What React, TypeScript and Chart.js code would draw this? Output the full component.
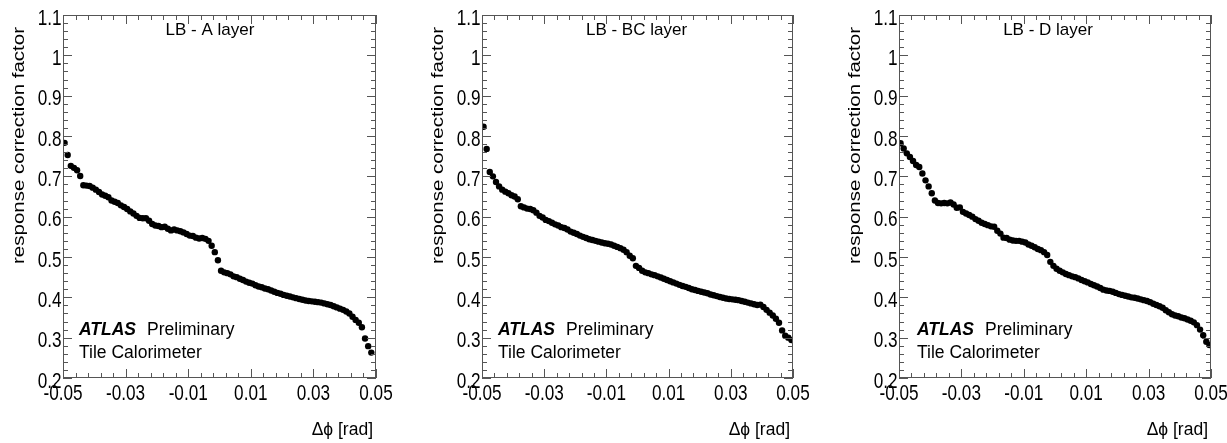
import React, { useEffect, useRef } from "react";
import { Chart, registerables } from "chart.js";

Chart.register(...registerables);

// ---- data ----
const DELTA_PHI = [
  -0.0495, -0.0485, -0.0475, -0.0465, -0.0455, -0.0445, -0.0435, -0.0425, -0.0415, -0.0405,
  -0.0395, -0.0385, -0.0375, -0.0365, -0.0355, -0.0345, -0.0335, -0.0325, -0.0315, -0.0305,
  -0.0295, -0.0285, -0.0275, -0.0265, -0.0255, -0.0245, -0.0235, -0.0225, -0.0215, -0.0205,
  -0.0195, -0.0185, -0.0175, -0.0165, -0.0155, -0.0145, -0.0135, -0.0125, -0.0115, -0.0105,
  -0.0095, -0.0085, -0.0075, -0.0065, -0.0055, -0.0045, -0.0035, -0.0025, -0.0015, -0.0005,
  0.0005, 0.0015, 0.0025, 0.0035, 0.0045, 0.0055, 0.0065, 0.0075, 0.0085, 0.0095,
  0.0105, 0.0115, 0.0125, 0.0135, 0.0145, 0.0155, 0.0165, 0.0175, 0.0185, 0.0195,
  0.0205, 0.0215, 0.0225, 0.0235, 0.0245, 0.0255, 0.0265, 0.0275, 0.0285, 0.0295,
  0.0305, 0.0315, 0.0325, 0.0335, 0.0345, 0.0355, 0.0365, 0.0375, 0.0385, 0.0395,
  0.0405, 0.0415, 0.0425, 0.0435, 0.0445, 0.0455, 0.0465, 0.0475, 0.0485, 0.0495,
];

const A_LAYER = [
  0.783, 0.753, 0.726, 0.721, 0.715, 0.701, 0.678, 0.677, 0.676, 0.672,
  0.667, 0.661, 0.655, 0.652, 0.648, 0.640, 0.637, 0.634, 0.628, 0.624,
  0.619, 0.613, 0.608, 0.602, 0.597, 0.596, 0.596, 0.590, 0.582, 0.578,
  0.577, 0.574, 0.575, 0.570, 0.566, 0.568, 0.566, 0.564, 0.561, 0.557,
  0.553, 0.552, 0.548, 0.546, 0.547, 0.545, 0.540, 0.528, 0.512, 0.492,
  0.466, 0.462, 0.460, 0.457, 0.452, 0.450, 0.446, 0.443, 0.439, 0.436,
  0.434, 0.430, 0.427, 0.425, 0.422, 0.420, 0.417, 0.414, 0.411, 0.409,
  0.406, 0.404, 0.402, 0.400, 0.398, 0.396, 0.394, 0.392, 0.391, 0.390,
  0.389, 0.388, 0.387, 0.385, 0.383, 0.381, 0.378, 0.375, 0.372, 0.369,
  0.365, 0.360, 0.352, 0.344, 0.337, 0.326, 0.298, 0.279, 0.263, null,
];

const BC_LAYER = [
  0.823, 0.768, 0.711, 0.700, 0.686, 0.675, 0.667, 0.662, 0.658, 0.653,
  0.650, 0.643, 0.626, 0.623, 0.620, 0.619, 0.616, 0.610, 0.602, 0.598,
  0.592, 0.589, 0.585, 0.581, 0.578, 0.574, 0.572, 0.568, 0.563, 0.560,
  0.557, 0.553, 0.550, 0.547, 0.544, 0.542, 0.540, 0.538, 0.536, 0.534,
  0.533, 0.531, 0.528, 0.525, 0.522, 0.518, 0.512, 0.503, 0.497, 0.478,
  0.473, 0.466, 0.462, 0.460, 0.457, 0.455, 0.452, 0.449, 0.446, 0.443,
  0.440, 0.437, 0.434, 0.431, 0.428, 0.426, 0.423, 0.420, 0.418, 0.416,
  0.414, 0.412, 0.410, 0.407, 0.405, 0.403, 0.401, 0.399, 0.397, 0.396,
  0.395, 0.394, 0.393, 0.391, 0.389, 0.387, 0.385, 0.383, 0.381, 0.382,
  0.376, 0.369, 0.362, 0.355, 0.347, 0.337, 0.318, 0.305, 0.300, 0.294,
];

const D_LAYER = [
  0.782, 0.769, 0.757, 0.748, 0.738, 0.728, 0.723, 0.707, 0.690, 0.675,
  0.658, 0.640, 0.634, 0.633, 0.634, 0.633, 0.635, 0.630, 0.622, 0.623,
  0.612, 0.608, 0.604, 0.600, 0.594, 0.590, 0.585, 0.582, 0.579, 0.576,
  0.575, 0.565, 0.558, 0.548, 0.547, 0.543, 0.541, 0.540, 0.540, 0.538,
  0.536, 0.531, 0.528, 0.524, 0.520, 0.517, 0.512, 0.505, 0.488, 0.478,
  0.471, 0.466, 0.462, 0.458, 0.455, 0.452, 0.450, 0.447, 0.443, 0.440,
  0.437, 0.433, 0.430, 0.427, 0.423, 0.419, 0.417, 0.416, 0.414, 0.411,
  0.408, 0.406, 0.404, 0.402, 0.400, 0.399, 0.397, 0.395, 0.393, 0.391,
  0.388, 0.384, 0.381, 0.378, 0.374, 0.368, 0.363, 0.358, 0.355, 0.353,
  0.350, 0.348, 0.345, 0.342, 0.338, 0.331, 0.320, 0.306, 0.290, 0.282,
];

const PANEL_TITLES = ["LB - A layer", "LB - BC layer", "LB - D layer"];
const PANEL_SERIES = [A_LAYER, BC_LAYER, D_LAYER];
const X_TICKS = [-0.05, -0.03, -0.01, 0.01, 0.03, 0.05];
const Y_TICKS = [0.2, 0.3, 0.4, 0.5, 0.6, 0.7, 0.8, 0.9, 1.0, 1.1];
const X_RANGE = [-0.05, 0.05];
const Y_RANGE = [0.2, 1.1];
const X_TITLE = "\u0394\u03d5 [rad]";
const Y_TITLE = "response correction factor";
const LABEL_LINE1_BOLD = "ATLAS";
const LABEL_LINE1 = "Preliminary";
const LABEL_LINE2 = "Tile Calorimeter";

// ---- layout / style ----
const W = 1227;
const H = 443;
const PLOT_TOP = 15;
const PLOT_BOTTOM = 378;
const Y_AXIS_W = 40;
const X_AXIS_H = 40;
const PANEL_LAYOUT = [
  { left: 63, right: 376, titleDx: -9.5, labelDx: 16 },
  { left: 482, right: 793, titleDx: -1, labelDx: 16 },
  { left: 899, right: 1211, titleDx: -7, labelDx: 18 },
];
const SANS = "'Liberation Sans', Arial, sans-serif";
const FRAME = "#555";
const MAJOR_LEN = 9;
const MINOR_LEN = 5;
const MINOR_DIV = 5;
const TICK_FONT = 22;
const TICK_SQUEEZE = 0.78;

const fmt = (v: number) => String(parseFloat(Number(v).toFixed(3)));

function makeDecor(idx: number) {
  const lay = PANEL_LAYOUT[idx];
  return {
    id: "decor" + idx,
    afterDraw(chart: any) {
      const { ctx, chartArea: a, scales } = chart;
      const xs = scales.x;
      const ys = scales.y;
      ctx.save();
      // frame
      ctx.strokeStyle = FRAME;
      ctx.lineWidth = 1;
      ctx.strokeRect(a.left + 0.5, a.top + 0.5, a.right - a.left - 1, a.bottom - a.top - 1);
      ctx.beginPath();
      // x ticks (bottom and top, inward)
      for (let k = 0; k < X_TICKS.length; k++) {
        const px = Math.round(xs.getPixelForValue(X_TICKS[k])) + 0.5;
        ctx.moveTo(px, a.bottom);
        ctx.lineTo(px, a.bottom - MAJOR_LEN);
        ctx.moveTo(px, a.top);
        ctx.lineTo(px, a.top + MAJOR_LEN);
        if (k < X_TICKS.length - 1) {
          for (let m = 1; m < MINOR_DIV; m++) {
            const v = X_TICKS[k] + ((X_TICKS[k + 1] - X_TICKS[k]) * m) / MINOR_DIV;
            const mx = Math.round(xs.getPixelForValue(v)) + 0.5;
            ctx.moveTo(mx, a.bottom);
            ctx.lineTo(mx, a.bottom - MINOR_LEN);
            ctx.moveTo(mx, a.top);
            ctx.lineTo(mx, a.top + MINOR_LEN);
          }
        }
      }
      // y ticks (left and right, inward)
      for (let k = 0; k < Y_TICKS.length; k++) {
        const py = Math.round(ys.getPixelForValue(Y_TICKS[k])) + 0.5;
        ctx.moveTo(a.left, py);
        ctx.lineTo(a.left + MAJOR_LEN, py);
        ctx.moveTo(a.right, py);
        ctx.lineTo(a.right - MAJOR_LEN, py);
        if (k < Y_TICKS.length - 1) {
          for (let m = 1; m < MINOR_DIV; m++) {
            const v = Y_TICKS[k] + ((Y_TICKS[k + 1] - Y_TICKS[k]) * m) / MINOR_DIV;
            const my = Math.round(ys.getPixelForValue(v)) + 0.5;
            ctx.moveTo(a.left, my);
            ctx.lineTo(a.left + MINOR_LEN, my);
            ctx.moveTo(a.right, my);
            ctx.lineTo(a.right - MINOR_LEN, my);
          }
        }
      }
      ctx.stroke();

      ctx.fillStyle = "#000";
      ctx.textBaseline = "alphabetic";

      // tick labels (from the scales' ticks)
      ctx.font = `${TICK_FONT}px ${SANS}`;
      for (const t of xs.ticks) {
        const px = xs.getPixelForValue(t.value);
        ctx.save();
        ctx.translate(px, a.bottom + 21.5);
        ctx.scale(TICK_SQUEEZE, 1);
        ctx.textAlign = "center";
        ctx.fillText(fmt(t.value), 0, 0);
        ctx.restore();
      }
      for (const t of ys.ticks) {
        const py = ys.getPixelForValue(t.value);
        ctx.save();
        ctx.translate(a.left - 1.5, py + 9.5);
        ctx.scale(TICK_SQUEEZE, 1);
        ctx.textAlign = "right";
        ctx.fillText(fmt(t.value), 0, 0);
        ctx.restore();
      }

      // panel title
      ctx.font = `17px ${SANS}`;
      ctx.textAlign = "center";
      ctx.fillText(PANEL_TITLES[idx], (a.left + a.right) / 2 + lay.titleDx, a.top + 19.5);

      // ATLAS label
      const lx = a.left + lay.labelDx;
      ctx.textAlign = "left";
      ctx.font = `italic bold 17.5px ${SANS}`;
      ctx.fillText(LABEL_LINE1_BOLD, lx, a.bottom - 43);
      const w = ctx.measureText(LABEL_LINE1_BOLD).width;
      ctx.font = `17.5px ${SANS}`;
      ctx.fillText(LABEL_LINE1, lx + w + 11, a.bottom - 43);
      ctx.fillText(LABEL_LINE2, lx, a.bottom - 20.5);

      // x title
      ctx.textAlign = "right";
      ctx.font = `17.5px ${SANS}`;
      ctx.fillText(X_TITLE, a.right - 3, a.bottom + 57);

      // y title
      ctx.save();
      ctx.translate(a.left - 39, a.top + 12);
      ctx.rotate(-Math.PI / 2);
      ctx.scale(1, 0.78);
      ctx.font = `20.5px ${SANS}`;
      ctx.textAlign = "right";
      ctx.fillText(Y_TITLE, 0, 0);
      ctx.restore();

      ctx.restore();
    },
  };
}

function Panel({ idx }: { idx: number }) {
  const ref = useRef<HTMLCanvasElement | null>(null);
  useEffect(() => {
    const lay = PANEL_LAYOUT[idx];
    const values = PANEL_SERIES[idx];
    const chart = new Chart(ref.current as HTMLCanvasElement, {
      type: "scatter",
      data: {
        datasets: [
          {
            data: DELTA_PHI.map((x, i) => ({ x, y: values[i] })),
            pointRadius: 3.2,
            pointHoverRadius: 3.2,
            pointBackgroundColor: "#000",
            pointBorderWidth: 0,
            showLine: false,
          } as any,
        ],
      },
      options: {
        responsive: false,
        animation: false,
        devicePixelRatio: 1,
        events: [],
        layout: {
          padding: {
            left: lay.left - Y_AXIS_W,
            right: W - lay.right,
            top: PLOT_TOP,
            bottom: H - PLOT_BOTTOM - X_AXIS_H,
          },
        },
        plugins: { legend: { display: false }, tooltip: { enabled: false } },
        scales: {
          x: {
            type: "linear",
            min: X_RANGE[0],
            max: X_RANGE[1],
            afterBuildTicks: (s: any) => {
              s.ticks = X_TICKS.map((v) => ({ value: v }));
            },
            afterFit: (s: any) => {
              s.height = X_AXIS_H;
            },
            grid: { display: false },
            border: { display: false },
            ticks: { display: false },
          },
          y: {
            type: "linear",
            min: Y_RANGE[0],
            max: Y_RANGE[1],
            afterBuildTicks: (s: any) => {
              s.ticks = Y_TICKS.map((v) => ({ value: v }));
            },
            afterFit: (s: any) => {
              s.width = Y_AXIS_W;
            },
            grid: { display: false },
            border: { display: false },
            ticks: { display: false },
          },
        },
      },
      plugins: [makeDecor(idx)],
    });
    return () => chart.destroy();
  }, [idx]);
  return (
    <canvas
      ref={ref}
      width={W}
      height={H}
      style={{ position: "absolute", left: 0, top: 0, width: W, height: H }}
    />
  );
}

export default function App() {
  return (
    <div
      style={{
        position: "absolute",
        left: 0,
        top: 0,
        width: W,
        height: H,
        background: "#fff",
        overflow: "hidden",
      }}
    >
      <Panel idx={0} />
      <Panel idx={1} />
      <Panel idx={2} />
    </div>
  );
}
